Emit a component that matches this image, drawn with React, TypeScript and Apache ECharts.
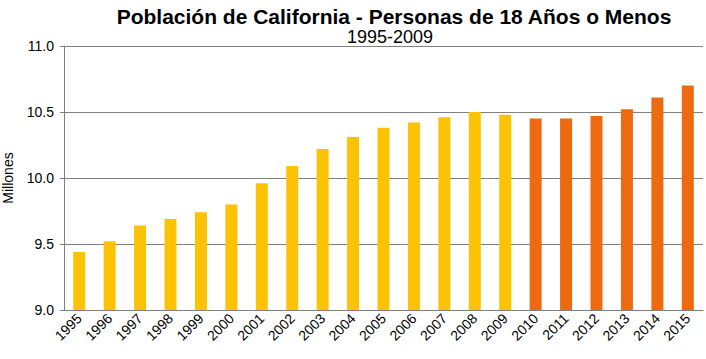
import React, { useEffect, useRef } from "react";
import * as echarts from "echarts";

const years = ["1995","1996","1997","1998","1999","2000","2001","2002","2003","2004","2005","2006","2007","2008","2009","2010","2011","2012","2013","2014","2015"];
const population = [9.44,9.52,9.64,9.69,9.74,9.80,9.96,10.09,10.22,10.31,10.38,10.42,10.46,10.50,10.48,10.45,10.45,10.47,10.52,10.61,10.70];
const projectedFrom = "2010";
const yTicks = [9.0, 9.5, 10.0, 10.5, 11.0];

export default function App() {
  const ref = useRef<HTMLDivElement>(null);
  useEffect(() => {
    if (!ref.current) return;
    const chart = echarts.init(ref.current, null, { renderer: "svg" });
    const startIdx = years.indexOf(projectedFrom);
    chart.setOption({
      animation: false,
      backgroundColor: "#ffffff",
      title: [
        {
          text: "Población de California - Personas de 18 Años o Menos",
          left: 389, top: 1, textAlign: "center",
          textStyle: { fontFamily: "Liberation Sans, Arial", fontSize: 21, fontWeight: "bold", color: "#000" },
        },
        {
          text: "1995-2009",
          left: 385, top: 23, textAlign: "center",
          textStyle: { fontFamily: "Liberation Sans, Arial", fontSize: 18, fontWeight: "normal", color: "#000" },
        },
      ],
      grid: { left: 64, right: 3, top: 46, bottom: 49, containLabel: false, outerBoundsMode: "none" },
      xAxis: {
        type: "category",
        data: years,
        axisLine: { show: true, lineStyle: { color: "#808080", width: 1 } },
        axisTick: { show: false },
        axisLabel: {
          rotate: 45, fontFamily: "Liberation Sans, Arial", fontSize: 14, color: "#000", margin: 6, interval: 0,
        },
      },
      yAxis: {
        type: "value",
        min: yTicks[0], max: yTicks[yTicks.length - 1], interval: 0.5,
        name: "Millones", nameLocation: "middle", nameGap: 49, nameRotate: 90,
        nameTextStyle: { fontFamily: "Liberation Sans, Arial", fontSize: 14, color: "#000" },
        axisLine: { show: true, lineStyle: { color: "#808080", width: 1 } },
        axisTick: { show: true, length: 4, inside: false, lineStyle: { color: "#808080" } },
        axisLabel: {
          fontFamily: "Liberation Sans, Arial", fontSize: 14, color: "#000", margin: 10,
          formatter: (v: number) => v.toFixed(1),
        },
        splitLine: { show: true, lineStyle: { color: "#808080", width: 1 } },
      },
      series: [
        {
          type: "bar",
          barWidth: 12,
          data: population.map((v, i) => ({
            value: v,
            itemStyle: { color: i >= startIdx ? "#EE6A10" : "#FCC204" },
          })),
        },
      ],
    });
    return () => chart.dispose();
  }, []);
  return <div ref={ref} style={{ width: 706, height: 359, position: "absolute", left: 0, top: 0 }} />;
}
